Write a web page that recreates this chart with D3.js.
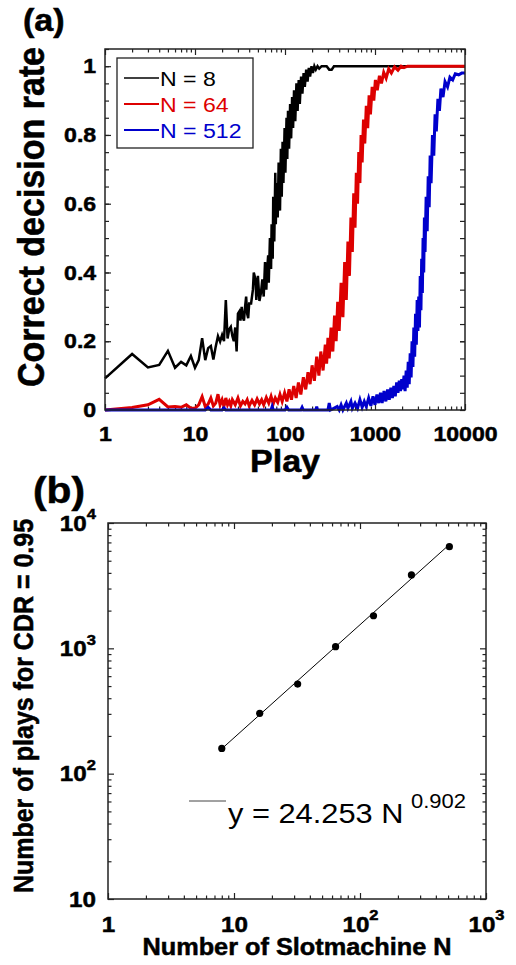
<!DOCTYPE html>
<html>
<head>
<meta charset="utf-8">
<script src="https://cdn.jsdelivr.net/npm/d3@7"></script>
<style>
  body { margin: 0; background: #fff; }
  svg { display: block; font-family: "Liberation Sans", Arial, sans-serif; }
</style>
</head>
<body>
<div id="chart"></div>
<script>
// ---- panel (a): correct decision rate vs play ----
var playN8 = [1,2,3,4,5,6,7,8,9,10,11,12,13,14,15,16,17,18,19,20,21,22,23,24,25,26,27,28,29,30,
  31,32,33,34,35,36,37,38,39,40,42,44,45,47,48,50,52,54,56,58,60,62,63,65,66,68,70,71,73,74,
  76,78,79,81,83,85,88,90,92,94,96,99,101,104,106,108,111,114,117,120,123,126,130,134,138,142,
  146,151,156,161,166,172,178,184,190,197,204,212,220,230,240,255,270,290,310,330,350,400,1000,10000];
var rateN8 = [.092,.163,.124,.131,.172,.123,.140,.130,.157,.123,.145,.209,.145,.180,.186,.147,.185,.215,.199,.218,
  .200,.320,.208,.235,.242,.215,.200,.240,.170,.280,.286,.260,.300,.270,.260,.300,.330,.280,.267,.310,
  .310,.350,.400,.380,.320,.390,.317,.340,.380,.330,.430,.350,.400,.450,.370,.500,.410,.540,.440,.620,
  .490,.690,.540,.660,.560,.720,.580,.760,.620,.780,.660,.820,.690,.850,.730,.870,.760,.890,.790,.910,
  .820,.930,.840,.950,.870,.960,.890,.970,.920,.980,.940,.990,.955,.995,.970,1,.980,1,.990,1,
  .993,1,1,1,.99,.99,1,1,1,1];

var playN64 = [1,2,3,4,5,6,7,8,9,10,11,12,13,14,15,16,17,18,19,20,21,22,23,24,25,26,28,30,32,34,
  36,38,40,43,46,49,52,55,58,62,66,70,74,78,83,88,93,99,105,111,118,125,133,141,150,160,170,180,190,200,
  212,225,238,250,265,280,290,300,310,325,340,355,370,385,400,420,440,460,480,500,520,540,560,580,600,620,640,660,680,700,
  720,745,770,800,830,860,890,930,970,1010,1060,1120,1180,1250,1330,1420,1520,1650,1800,1950,2100,2300,10000];
var rateN64 = [0,.007,.015,.031,.009,.010,.008,.015,.005,.005,.015,.039,.010,.017,.035,.012,.020,.046,.015,.030,
  .010,.035,.015,.025,.012,.030,.015,.035,.012,.025,.018,.030,.012,.028,.015,.032,.018,.030,.015,.036,
  .020,.040,.018,.035,.022,.045,.025,.050,.025,.060,.030,.070,.035,.080,.045,.095,.060,.110,.075,.130,
  .085,.155,.100,.170,.115,.190,.135,.210,.150,.240,.170,.275,.200,.315,.230,.370,.270,.430,.320,.490,
  .390,.560,.460,.630,.530,.690,.600,.750,.660,.800,.720,.845,.775,.885,.820,.915,.860,.940,.900,.960,
  .930,.972,.950,.982,.965,.992,.980,.998,.988,1,.996,1,1];

var playN512 = [1,13,14,15,20,21,22,70,72,74,100,105,110,150,155,160,220,225,230,300,310,320,380,400,420,440,480,500,540,560,
  600,640,680,720,760,800,850,900,950,1000,1050,1100,1150,1200,1260,1320,1380,1440,1500,1560,1620,1680,1740,1800,1860,1920,1980,2040,
  2100,2160,2220,2280,2340,2400,2460,2520,2580,2640,2700,2760,2820,2880,2940,3000,3060,3120,3180,3240,3300,3360,3420,3480,3540,3600,
  3700,3800,3900,4000,4100,4200,4350,4500,4650,4800,5000,5200,5400,5700,6000,6400,6800,7300,7800,8500,9200,10000];
var rateN512 = [0,0,.008,0,0,.006,0,0,.010,0,0,.008,0,0,.008,0,0,.010,0,0,.020,0,.010,0,.015,0,.020,.005,.025,.005,
  .020,.005,.030,.008,.025,.010,.035,.012,.040,.015,.045,.020,.050,.020,.055,.025,.060,.030,.065,.035,.070,.040,.080,.050,.085,.055,.090,.060,
  .100,.055,.115,.065,.140,.075,.165,.095,.200,.125,.240,.155,.280,.190,.320,.230,.330,.240,.390,.290,.440,.340,.500,.400,.560,.460,
  .620,.520,.680,.590,.740,.660,.800,.740,.860,.810,.905,.870,.935,.910,.955,.940,.968,.960,.978,.975,.980,.980];

var xTicksA = [1, 10, 100, 1000, 10000];
var yTicksA = [0, 0.2, 0.4, 0.6, 0.8, 1];
var seriesNames = ["N = 8", "N = 64", "N = 512"];
var seriesColors = ["#000000", "#dd0000", "#0000cc"];

// ---- panel (b): plays needed for CDR = 0.95 ----
var slotN = [8, 16, 32, 64, 128, 256, 512];
var playsCdr = [159, 303, 519, 1030, 1820, 3850, 6470];
var fitN = [8, 512];
var fitPlays = [158, 6730];
var xTicksB = [1, 10, 100, 1000];
var xTickBase = ["1", "10", "10", "10"];
var xTickExp = ["", "", "2", "3"];
var yTicksB = [10, 100, 1000, 10000];
var yTickBase = ["10", "10", "10", "10"];
var yTickExp = ["", "2", "3", "4"];

var W = 516, H = 965, SX = 1.1;   // text in the picture is a bit wide
var svg = d3.select("#chart").append("svg").attr("width", W).attr("height", H);

function label(x, y, str, size, weight, anchor, rot) {
  var g = svg.append("g")
    .attr("transform", "translate(" + x + "," + y + ") scale(" + SX + ",1)" + (rot ? " rotate(-90)" : ""));
  var t = g.append("text")
    .attr("font-size", size)
    .attr("font-weight", weight)
    .attr("text-anchor", anchor)
    .text(str);
  if (weight === "bold") t.attr("stroke", "#000").attr("stroke-width", 0.5);
  return t;
}

function styleAxis(g, fontSize) {
  g.select(".domain").remove();
  g.attr("font-size", fontSize).attr("font-family", null);
  g.selectAll(".tick line").attr("stroke", "#222").attr("stroke-width", 1.2);
  g.selectAll(".tick text")
    .attr("transform", "scale(" + SX + ",1)")
    .style("font-size", fontSize + "px")
    .style("font-weight", "bold")
    .attr("fill", "#000")
    .attr("stroke", "#000")
    .attr("stroke-width", 0.5);
}

// ================= panel (a) =================
var xa = d3.scaleLog().domain([1, 10000]).range([105, 465]);
var ya = d3.scaleLinear().domain([0, 1.05]).range([410, 49]);
var minorXA = xa.ticks().filter(function (d) { return xTicksA.indexOf(d) < 0; });
var minorYA = d3.range(0.05, 1.051, 0.05);

// ticks on all four sides
svg.append("g").attr("transform", "translate(0,410)")
  .call(d3.axisBottom(xa).tickValues(xTicksA).tickFormat(d3.format("d")).tickSize(-6).tickPadding(16))
  .call(styleAxis, 21);
svg.append("g").attr("transform", "translate(0,410)")
  .call(d3.axisBottom(xa).tickValues(minorXA).tickFormat("").tickSize(-3.5)).call(styleAxis, 21);
svg.append("g").attr("transform", "translate(0,49)")
  .call(d3.axisTop(xa).tickValues(xTicksA).tickFormat("").tickSize(-6)).call(styleAxis, 21);
svg.append("g").attr("transform", "translate(0,49)")
  .call(d3.axisTop(xa).tickValues(minorXA).tickFormat("").tickSize(-3.5)).call(styleAxis, 21);
svg.append("g").attr("transform", "translate(105,0)")
  .call(d3.axisLeft(ya).tickValues(yTicksA).tickFormat(function (d) { return String(d); }).tickSize(-6).tickPadding(8))
  .call(styleAxis, 21);
svg.append("g").attr("transform", "translate(105,0)")
  .call(d3.axisLeft(ya).tickValues(minorYA).tickFormat("").tickSize(-4)).call(styleAxis, 21);
svg.append("g").attr("transform", "translate(465,0)")
  .call(d3.axisRight(ya).tickValues(minorYA.concat(yTicksA)).tickFormat("").tickSize(-5)).call(styleAxis, 21);

var lineA = function (plays, rates) {
  return d3.line()
    .x(function (d, i) { return xa(plays[i]); })
    .y(function (d, i) { return ya(rates[i]); })(plays);
};
var curves = [[playN8, rateN8], [playN64, rateN64], [playN512, rateN512]];
var curveWidths = [2.5, 3, 3];
curves.forEach(function (c, k) {
  svg.append("path")
    .attr("d", lineA(c[0], c[1]))
    .attr("fill", "none")
    .attr("stroke", seriesColors[k])
    .attr("stroke-width", curveWidths[k]);
});

svg.append("rect").attr("x", 105).attr("y", 49).attr("width", 360).attr("height", 361)
  .attr("fill", "none").attr("stroke", "#222").attr("stroke-width", 1.5);

// legend
svg.append("rect").attr("x", 117).attr("y", 58).attr("width", 136).attr("height", 90)
  .attr("fill", "#fff").attr("stroke", "#222").attr("stroke-width", 1.3);
seriesNames.forEach(function (name, k) {
  var yy = 78 + k * 26;
  svg.append("line").attr("x1", 124).attr("x2", 159).attr("y1", yy).attr("y2", yy)
    .attr("stroke", seriesColors[k]).attr("stroke-width", k === 0 ? 1.6 : 2.2);
  label(160, yy, name, 21, "normal", "start").attr("dy", "0.36em").attr("fill", seriesColors[k]);
});

label(23, 31, "(a)", 31, "bold", "start");
label(44, 217, "Correct decision rate", 34, "bold", "middle", true);
label(285, 472, "Play", 31, "bold", "middle");

// ================= panel (b) =================
var xb = d3.scaleLog().domain([1, 1000]).range([108, 486]);
var yb = d3.scaleLog().domain([10, 10000]).range([899, 523]);
var minorXB = xb.ticks().filter(function (d) { return xTicksB.indexOf(d) < 0; });
var minorYB = yb.ticks().filter(function (d) { return yTicksB.indexOf(d) < 0; });

function supLabels(g, bases, exps) {
  g.selectAll(".tick text").each(function (d, i) {
    var t = d3.select(this).text(bases[i]);
    if (exps[i]) t.append("tspan").style("font-size", "15px").attr("dy", "-0.75em").text(exps[i]);
  });
}

svg.append("g").attr("transform", "translate(0,899)")
  .call(d3.axisBottom(xb).tickValues(xTicksB).tickFormat("").tickSize(-6).tickPadding(17))
  .call(styleAxis, 22).call(supLabels, xTickBase, xTickExp);
svg.append("g").attr("transform", "translate(0,899)")
  .call(d3.axisBottom(xb).tickValues(minorXB).tickFormat("").tickSize(-3.5)).call(styleAxis, 22);
svg.append("g").attr("transform", "translate(0,523)")
  .call(d3.axisTop(xb).tickValues(xTicksB).tickFormat("").tickSize(-6)).call(styleAxis, 22);
svg.append("g").attr("transform", "translate(0,523)")
  .call(d3.axisTop(xb).tickValues(minorXB).tickFormat("").tickSize(-3.5)).call(styleAxis, 22);
svg.append("g").attr("transform", "translate(108,0)")
  .call(d3.axisLeft(yb).tickValues(yTicksB).tickFormat("").tickSize(-6).tickPadding(11))
  .call(styleAxis, 22).call(supLabels, yTickBase, yTickExp);
svg.append("g").attr("transform", "translate(108,0)")
  .call(d3.axisLeft(yb).tickValues(minorYB).tickFormat("").tickSize(-3.5)).call(styleAxis, 22);
svg.append("g").attr("transform", "translate(486,0)")
  .call(d3.axisRight(yb).tickValues(yTicksB).tickFormat("").tickSize(-6)).call(styleAxis, 22);
svg.append("g").attr("transform", "translate(486,0)")
  .call(d3.axisRight(yb).tickValues(minorYB).tickFormat("").tickSize(-3.5)).call(styleAxis, 22);

svg.append("path")
  .attr("d", d3.line()
    .x(function (d, i) { return xb(fitN[i]); })
    .y(function (d, i) { return yb(fitPlays[i]); })(fitN))
  .attr("fill", "none").attr("stroke", "#000").attr("stroke-width", 1);

svg.append("g").selectAll("circle").data(slotN).enter().append("circle")
  .attr("cx", function (d) { return xb(d); })
  .attr("cy", function (d, i) { return yb(playsCdr[i]); })
  .attr("r", 3.6)
  .attr("fill", "#000");

svg.append("rect").attr("x", 108).attr("y", 523).attr("width", 378).attr("height", 376)
  .attr("fill", "none").attr("stroke", "#222").attr("stroke-width", 1.5);

// fit legend
svg.append("line").attr("x1", 189).attr("x2", 226).attr("y1", 801).attr("y2", 801)
  .attr("stroke", "#444").attr("stroke-width", 1);
label(228, 823, "y = 24.253 N", 28, "normal", "start");
label(411, 808, "0.902", 20, "normal", "start");

label(33, 503, "(b)", 37, "bold", "start");
label(33, 706, "Number of plays for CDR = 0.95", 25, "bold", "middle", true);
label(297, 955, "Number of Slotmachine N", 23, "bold", "middle");
</script>
</body>
</html>
